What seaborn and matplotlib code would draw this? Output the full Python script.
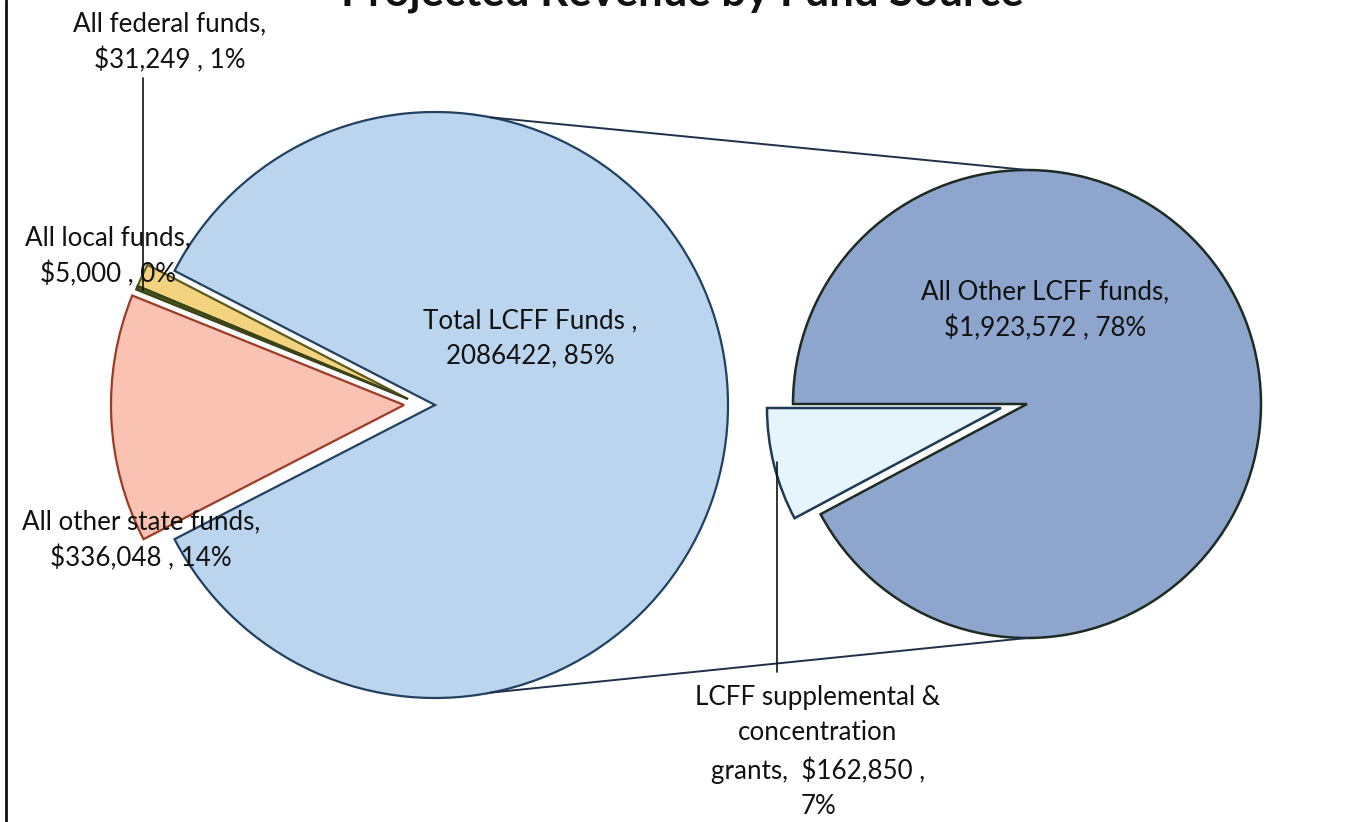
"""
Projected revenue by fund source - pie of pie
"""

import numpy as np
import matplotlib
matplotlib.use("Agg")
import matplotlib.pyplot as plt
import seaborn as sns

sns.set_theme(style="white")
plt.rcParams["font.family"] = ["Lato", "DejaVu Sans"]

# data
main_labels = ["Total LCFF Funds", "All federal funds", "All local funds", "All other state funds"]
main_values = [2086422, 31249, 5000, 336048]
main_colors = ["#BCD5EE", "#F3D37F", "#4E5A22", "#F9C2B2"]
main_edges = ["#22405F", "#5E5A1E", "#3A4218", "#9C3B26"]

sub_labels = ["LCFF supplemental & concentration grants", "All Other LCFF funds"]
sub_values = [162850, 1923572]
sub_colors = ["#E6F4FB", "#8EA6CE"]
sub_edges = ["#1F3A55", "#1E2B22"]

W, H = 1355, 822


def Y(y):
    # image y (from top) -> data y (from bottom)
    return H - y


fig = plt.figure(figsize=(W / 100, H / 100), dpi=100)
ax = fig.add_axes([0, 0, 1, 1])

# left pie: LCFF centred on the right side
c1 = (435, Y(405))
r1 = 293
lcff_angle = 360 * main_values[0] / sum(main_values)
wedges1, _ = ax.pie(main_values, center=c1, radius=r1, startangle=-lcff_angle / 2,
                    counterclock=True, colors=main_colors, frame=True,
                    wedgeprops=dict(linewidth=1.6))
# the non-LCFF slices are pulled out to the left
offsets = [(0, 0), (-27, 6), (-27, 6), (-31, 0)]
for w, ec, (dx, dy) in zip(wedges1, main_edges, offsets):
    w.set_edgecolor(ec)
    w.set_center((c1[0] + dx, c1[1] + dy))

# right pie: breakdown of LCFF
c2 = (1027, Y(404))
r2 = 234
wedges2, _ = ax.pie(sub_values, center=c2, radius=r2, startangle=180,
                    colors=sub_colors, frame=True,
                    wedgeprops=dict(linewidth=1.8))
for i, (w, ec) in enumerate(zip(wedges2, sub_edges)):
    w.set_edgecolor(ec)
    if i == 0:
        w.set_center((c2[0] - 26, c2[1] - 4))

# connector lines between the two pies
for sgn in (1, -1):
    a = np.deg2rad(79 * sgn)
    x0, y0 = c1[0] + r1 * np.cos(a), c1[1] + r1 * np.sin(a)
    x1, y1 = c2[0], c2[1] + sgn * r2
    ax.plot([x0, x1], [y0, y1], color="#1F3048", lw=1.4)

ax.set_xlim(0, W)
ax.set_ylim(0, H)
ax.set_aspect("equal")
ax.axis("off")

fs = 18.7
txt = dict(ha="center", va="center", fontsize=fs, color="#111111", linespacing=1.5)

ax.text(530, Y(338), "Total LCFF Funds ,\n2086422, 85%", **txt)
ax.text(1045, Y(310), "All Other LCFF funds,\n$1,923,572 , 78%", **txt)
ax.text(818, Y(752), "LCFF supplemental &\nconcentration\ngrants,  $162,850 ,\n7%", **txt)
ax.text(170, Y(42), "All federal funds,\n$31,249 , 1%", **txt)
ax.text(108, Y(256), "All local funds,\n$5,000 , 0%", **txt)
ax.text(141, Y(540), "All other state funds,\n$336,048 , 14%", **txt)

# leader lines
ax.plot([143, 143], [Y(78), Y(290)], color="#111111", lw=1.2)
ax.plot([777, 777], [Y(462), Y(672)], color="#111111", lw=1.2)

# title (cut off at the top edge)
ax.text(682, Y(5), "Projected Revenue by Fund Source", ha="center", va="baseline",
        fontsize=31.5, fontweight="bold", color="#111111")

# left border of the chart area
ax.plot([6, 6], [0, H], color="#111111", lw=2)

fig.savefig("out.png", dpi=100)
